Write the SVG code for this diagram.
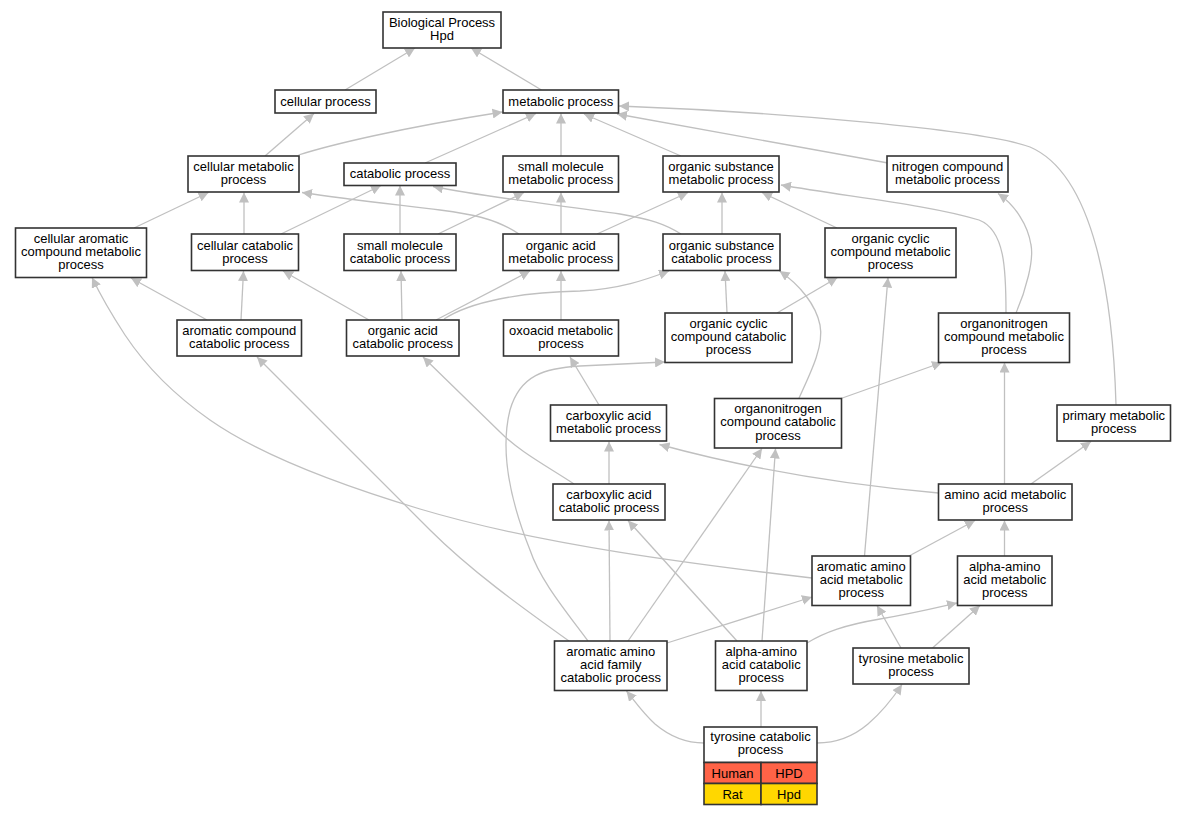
<svg xmlns="http://www.w3.org/2000/svg" width="1187" height="816" viewBox="0 0 1187 816">
<defs>
<style>
.n rect{fill:#fff;stroke:#333;stroke-width:1.6}
.n text,.t text{font-family:"Liberation Sans",Arial,sans-serif;font-size:13px;fill:#000;text-anchor:middle}
.e path{fill:none;stroke:#c0c0c0;stroke-width:1.3;marker-end:url(#ah)}
</style>
<marker id="ah" viewBox="0 0 10 10" refX="10" refY="5" markerWidth="10" markerHeight="10" markerUnits="userSpaceOnUse" orient="auto">
<path d="M0,0 L10,5 L0,10 z" fill="#c0c0c0"/>
</marker>
</defs>
<rect width="1187" height="816" fill="#fff"/>
<g id="edges" class="e">
<path d="M345,90 L415,48"/>
<path d="M541.5,90 L471,48"/>
<path d="M265,156 L314,113.5"/>
<path d="M298.5,155 C330,145 400,128 502.5,112"/>
<path d="M425,163 L536,113.5"/>
<path d="M561,156 L561,113.5"/>
<path d="M681,156 L584,114"/>
<path d="M888,163 L617,114"/>
<path d="M1116,405 C1113,300 1095,175 1030,147 C985,130 780,112 619,106"/>
<path d="M134,228 L208.5,192.5"/>
<path d="M244,234 L244,192.5"/>
<path d="M281,234 L381,185.5"/>
<path d="M519,234 C495,218 470,214 440,210 C400,205 350,200 302,192.5"/>
<path d="M400,234 L400,185.5"/>
<path d="M438,234 L524,192.5"/>
<path d="M561,234 L561,192.5"/>
<path d="M681,234 C665,224 650,219 620,214 C560,205 490,198 433,186.5"/>
<path d="M597,234 L688,192.5"/>
<path d="M722,234 L722,192.5"/>
<path d="M837,228 L762,192.5"/>
<path d="M1006,313 C1006,270 1005,230 979,220 C930,205 850,197 781,185"/>
<path d="M1016,313 C1026,290 1034,260 1031,245 C1028,225 1015,205 998,193.5"/>
<path d="M207,320 L131,278"/>
<path d="M812,578 C700,565 540,545 420,509 C340,485 260,455 210,420 C170,392 145,365 125,335 C110,312 98,290 92,277.5"/>
<path d="M241,320 L243.5,271"/>
<path d="M369,320 L283,271"/>
<path d="M402,320 L401,271"/>
<path d="M436,320 L530,271"/>
<path d="M444,319 C470,302 520,292 580,291 C620,289 645,280 669,271"/>
<path d="M561,320 L561,271"/>
<path d="M569,641 C520,606 470,570 430,530 L257,357"/>
<path d="M574,484 C545,465 520,452 500,432 L423,357"/>
<path d="M599,405 L570,357"/>
<path d="M727,313 L725,271"/>
<path d="M777,313 L837.5,277.5"/>
<path d="M588,641 C565,610 540,580 530,550 C510,500 500,450 510,410 C520,375 545,368 580,366 C620,364 645,363 665,362"/>
<path d="M841,398.5 L942,362.5"/>
<path d="M799,398 C812,370 824,345 820,325 C816,305 800,285 779.5,271"/>
<path d="M609,484 L609,441.5"/>
<path d="M938.5,493 C860,486 760,472 659.5,444.5"/>
<path d="M1004.5,484 L1004.5,362.5"/>
<path d="M1031,484 L1091,441.5"/>
<path d="M610,641 L609,520.5"/>
<path d="M737,641 L628,520.5"/>
<path d="M628,641 L762,448.5"/>
<path d="M762,641 L775.5,448.5"/>
<path d="M909,556 L975,520.5"/>
<path d="M1004.5,556 L1004.5,520.5"/>
<path d="M864.5,556 L888,277.5"/>
<path d="M667,643 L812,597"/>
<path d="M807,643 C825,632 845,625 880,619 C915,613 935,608 957,603"/>
<path d="M901,648 L877,605.5"/>
<path d="M932.5,648 L980,605.5"/>
<path d="M704,743 C685,743 668,735 655,724 C642,712 634,700 626.5,691"/>
<path d="M761,727 L761,691"/>
<path d="M817,743 C838,743 855,735 868,724 C882,712 893,698 902,684.5"/>
</g>
<g id="n1" class="n"><rect x="383" y="12" width="118" height="36"/><text x="442" y="27">Biological Process</text><text x="442" y="40">Hpd</text></g>
<g id="n2" class="n"><rect x="275" y="90" width="101" height="23"/><text x="325.5" y="105.5">cellular process</text></g>
<g id="n3" class="n"><rect x="503" y="90" width="115.5" height="23"/><text x="560.75" y="105.5">metabolic process</text></g>
<g id="n4" class="n"><rect x="188" y="156" width="111" height="36"/><text x="243.5" y="171">cellular metabolic</text><text x="243.5" y="184">process</text></g>
<g id="n5" class="n"><rect x="344" y="163" width="112" height="22.5"/><text x="400" y="178">catabolic process</text></g>
<g id="n6" class="n"><rect x="503" y="156" width="115.5" height="36"/><text x="560.75" y="171">small molecule</text><text x="560.75" y="184">metabolic process</text></g>
<g id="n7" class="n"><rect x="663" y="156" width="116" height="36"/><text x="721" y="171">organic substance</text><text x="721" y="184">metabolic process</text></g>
<g id="n8" class="n"><rect x="887" y="156" width="121" height="36"/><text x="947.5" y="171">nitrogen compound</text><text x="947.5" y="184">metabolic process</text></g>
<g id="n9" class="n"><rect x="15.5" y="228" width="131" height="49.5"/><text x="81" y="242.5">cellular aromatic</text><text x="81" y="255.5">compound metabolic</text><text x="81" y="269">process</text></g>
<g id="n10" class="n"><rect x="191.5" y="234" width="107" height="36.5"/><text x="245" y="249.5">cellular catabolic</text><text x="245" y="262.5">process</text></g>
<g id="n11" class="n"><rect x="344" y="234" width="112" height="36.5"/><text x="400" y="249.5">small molecule</text><text x="400" y="262.5">catabolic process</text></g>
<g id="n12" class="n"><rect x="503" y="234" width="115.5" height="36.5"/><text x="560.75" y="249.5">organic acid</text><text x="560.75" y="262.5">metabolic process</text></g>
<g id="n13" class="n"><rect x="663" y="234" width="117" height="36.5"/><text x="721.5" y="249.5">organic substance</text><text x="721.5" y="262.5">catabolic process</text></g>
<g id="n14" class="n"><rect x="825" y="228" width="131" height="49.5"/><text x="890.5" y="242.5">organic cyclic</text><text x="890.5" y="255.5">compound metabolic</text><text x="890.5" y="269">process</text></g>
<g id="n15" class="n"><rect x="177" y="320" width="124.5" height="36"/><text x="239.25" y="335">aromatic compound</text><text x="239.25" y="348">catabolic process</text></g>
<g id="n16" class="n"><rect x="346.5" y="320" width="112.5" height="36"/><text x="402.75" y="335">organic acid</text><text x="402.75" y="348">catabolic process</text></g>
<g id="n17" class="n"><rect x="503.5" y="320" width="115" height="36"/><text x="561" y="335">oxoacid metabolic</text><text x="561" y="348">process</text></g>
<g id="n18" class="n"><rect x="665" y="313" width="127" height="49.5"/><text x="728.5" y="327.5">organic cyclic</text><text x="728.5" y="340.5">compound catabolic</text><text x="728.5" y="354">process</text></g>
<g id="n19" class="n"><rect x="938.5" y="313" width="131" height="49.5"/><text x="1004" y="327.5">organonitrogen</text><text x="1004" y="340.5">compound metabolic</text><text x="1004" y="354">process</text></g>
<g id="n20" class="n"><rect x="550.5" y="405" width="116" height="36"/><text x="608.5" y="420">carboxylic acid</text><text x="608.5" y="433">metabolic process</text></g>
<g id="n21" class="n"><rect x="714.5" y="398.5" width="127" height="49.5"/><text x="778" y="413">organonitrogen</text><text x="778" y="426">compound catabolic</text><text x="778" y="439.5">process</text></g>
<g id="n22" class="n"><rect x="1057" y="405" width="113.5" height="36"/><text x="1113.75" y="420">primary metabolic</text><text x="1113.75" y="433">process</text></g>
<g id="n23" class="n"><rect x="553" y="484" width="112" height="36"/><text x="609" y="499">carboxylic acid</text><text x="609" y="512">catabolic process</text></g>
<g id="n24" class="n"><rect x="938.5" y="484" width="133.5" height="36"/><text x="1005.25" y="499">amino acid metabolic</text><text x="1005.25" y="512">process</text></g>
<g id="n25" class="n"><rect x="812" y="556" width="98.5" height="49.5"/><text x="861.25" y="570.5">aromatic amino</text><text x="861.25" y="583.5">acid metabolic</text><text x="861.25" y="597">process</text></g>
<g id="n26" class="n"><rect x="957.5" y="556" width="94.5" height="49.5"/><text x="1004.75" y="570.5">alpha-amino</text><text x="1004.75" y="583.5">acid metabolic</text><text x="1004.75" y="597">process</text></g>
<g id="n27" class="n"><rect x="554.5" y="641" width="112.5" height="49.5"/><text x="610.75" y="655.5">aromatic amino</text><text x="610.75" y="668.5">acid family</text><text x="610.75" y="682">catabolic process</text></g>
<g id="n28" class="n"><rect x="715.5" y="641" width="91.5" height="49.5"/><text x="761.25" y="655.5">alpha-amino</text><text x="761.25" y="668.5">acid catabolic</text><text x="761.25" y="682">process</text></g>
<g id="n29" class="n"><rect x="853" y="648" width="116" height="36"/><text x="911" y="663">tyrosine metabolic</text><text x="911" y="676">process</text></g>
<g id="n30" class="n">
<rect x="704" y="727" width="113" height="35.5"/>
<text x="760.5" y="741">tyrosine catabolic</text><text x="760.5" y="754">process</text>
<rect x="704" y="762.5" width="57" height="21" style="fill:#ff6347"/>
<rect x="761" y="762.5" width="56" height="21" style="fill:#ff6347"/>
<rect x="704" y="783.5" width="57" height="21" style="fill:#ffd700"/>
<rect x="761" y="783.5" width="56" height="21" style="fill:#ffd700"/>
<text x="732.5" y="777.5">Human</text><text x="789" y="777.5">HPD</text>
<text x="732.5" y="798.5">Rat</text><text x="789" y="798.5">Hpd</text>
</g>
</svg>
